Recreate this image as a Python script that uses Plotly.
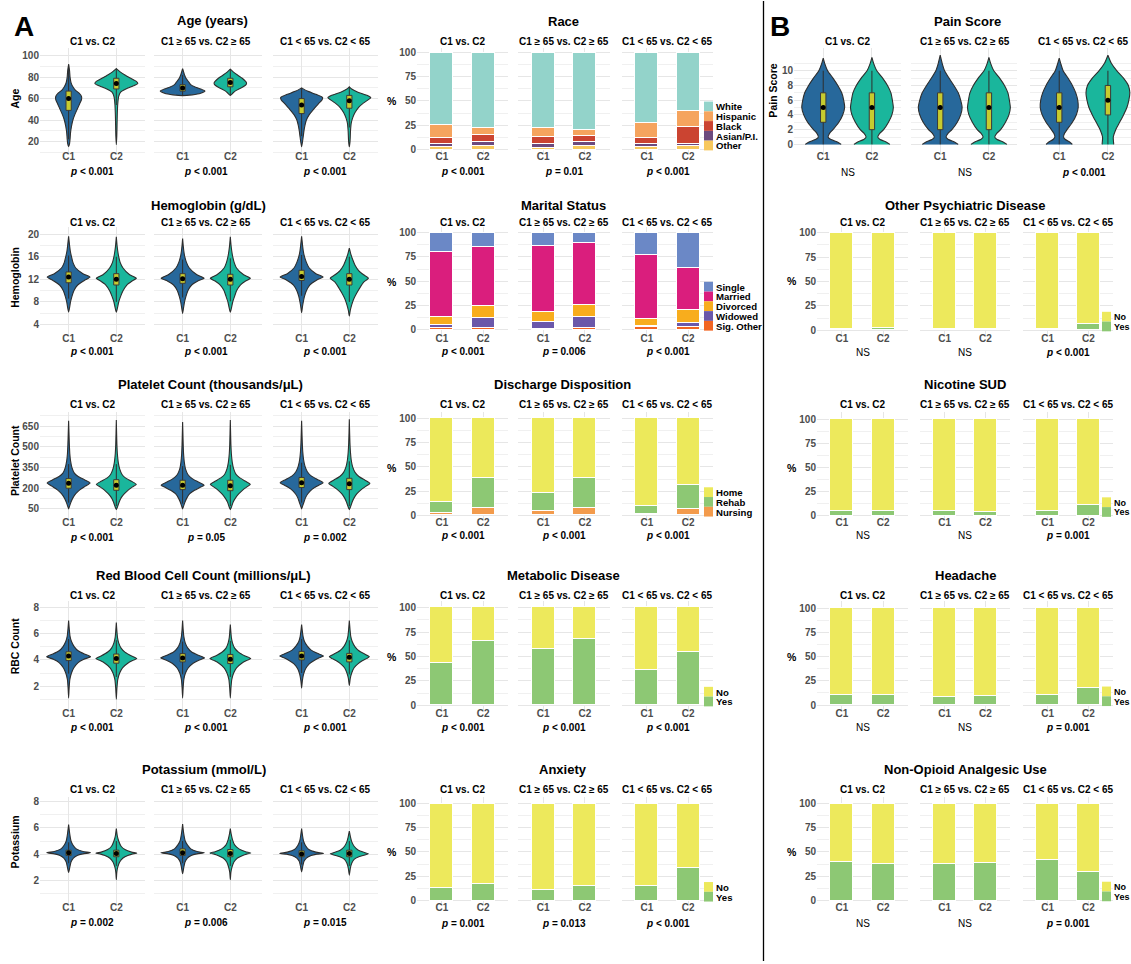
import plotly.graph_objects as go

W, H = 1131, 964
FONT = "Liberation Sans, Arial, Helvetica, sans-serif"

GROUPS = ["C1", "C2"]
COMPARISONS = ["C1 vs. C2", "C1 ≥ 65 vs. C2 ≥ 65", "C1 < 65 vs. C2 < 65"]

# ---------------- violin data: [value, half-width] profiles, C1 then C2 per comparison
AGE_PROFILES = [
    [[15, 0], [18, 0.02], [22, 0.03], [28, 0.04], [34, 0.06], [40, 0.09], [45, 0.13], [50, 0.18], [55, 0.23],
     [59, 0.27], [62, 0.27], [65, 0.22], [68, 0.14], [71, 0.09], [75, 0.05], [80, 0.03], [86, 0.02], [92, 0]],
    [[17, 0], [25, 0.01], [35, 0.015], [45, 0.02], [55, 0.03], [62, 0.05], [66, 0.09], [69, 0.2], [72, 0.36],
     [74, 0.45], [76, 0.42], [79, 0.3], [82, 0.18], [85, 0.08], [88, 0]],
    [[62.8, 0], [63.5, 0.2], [65, 0.38], [67, 0.47], [69, 0.38], [71, 0.25], [73, 0.17], [76, 0.12], [79, 0.07],
     [82, 0.04], [85, 0.02], [88, 0]],
    [[63, 0], [65, 0.05], [67, 0.1], [69, 0.18], [71, 0.27], [73, 0.33], [74.5, 0.34], [76, 0.32], [79, 0.25],
     [82, 0.15], [85, 0.06], [87.5, 0]],
    [[15, 0], [20, 0.02], [25, 0.035], [30, 0.05], [35, 0.07], [40, 0.1], [45, 0.16], [50, 0.25], [55, 0.35],
     [59, 0.43], [61, 0.44], [64, 0.3], [67, 0.12], [70, 0]],
    [[15, 0], [20, 0.015], [30, 0.025], [37, 0.04], [42, 0.07], [47, 0.12], [52, 0.2], [56, 0.3], [59, 0.4],
     [61, 0.45], [63, 0.38], [66, 0.18], [69, 0.05], [71, 0]],
]
# (lower whisker, q1, median, q3, upper whisker)
AGE_BOXES = [(22, 49, 60, 67, 92), (54, 69, 74, 79, 88), (63, 67, 70, 73, 82),
             (63, 71, 75, 79, 87), (25, 46, 54, 60, 70), (33, 51, 58, 63, 71)]
AGE_P = ["< 0.001", "< 0.001", "< 0.001"]

HGB_PROFILES = [
    [[6.2, 0], [7, 0.02], [8, 0.04], [9, 0.07], [10, 0.11], [11, 0.19], [11.8, 0.33], [12.4, 0.45], [13, 0.3],
     [14, 0.15], [15, 0.09], [16, 0.06], [17, 0.035], [18, 0.02], [19.6, 0]],
    [[6.2, 0], [7, 0.025], [8, 0.05], [9, 0.09], [10, 0.14], [11, 0.22], [11.7, 0.33], [12.2, 0.42], [12.8, 0.28],
     [14, 0.14], [15, 0.08], [16, 0.05], [17, 0.03], [18, 0.015], [19.5, 0]],
    [[6, 0], [7, 0.02], [8, 0.04], [9, 0.07], [10, 0.11], [11, 0.19], [11.7, 0.32], [12.2, 0.45], [12.8, 0.3],
     [14, 0.14], [15, 0.08], [16, 0.045], [17, 0.025], [18, 0.012], [19.2, 0]],
    [[6.2, 0], [7, 0.025], [8, 0.05], [9, 0.09], [10, 0.13], [11, 0.21], [11.7, 0.32], [12.2, 0.42], [12.8, 0.28],
     [14, 0.13], [15, 0.08], [16, 0.05], [17, 0.03], [18, 0.015], [19.5, 0]],
    [[6.1, 0], [7, 0.015], [8, 0.035], [9, 0.06], [10, 0.1], [11, 0.17], [11.9, 0.32], [12.4, 0.45], [13, 0.3],
     [14, 0.16], [15, 0.1], [16, 0.06], [17, 0.035], [18, 0.02], [19.6, 0]],
    [[5.5, 0], [6.5, 0.02], [7.5, 0.05], [8.5, 0.09], [9.5, 0.15], [10.5, 0.22], [11.5, 0.3], [12.2, 0.4],
     [12.8, 0.3], [13.5, 0.2], [14.5, 0.12], [15.5, 0.07], [16.5, 0.03], [17.5, 0]],
]
HGB_BOXES = [(8.6, 11.4, 12.4, 13.3, 16.2), (8.0, 11.0, 12.0, 13.0, 16.0), (8.8, 11.3, 12.1, 13.0, 15.5),
             (8.1, 11.0, 12.0, 12.9, 15.7), (9.1, 11.8, 12.5, 13.6, 16.3), (8.0, 11.0, 12.0, 13.0, 16.0)]
HGB_P = ["< 0.001", "< 0.001", "< 0.001"]

PLT_PROFILES = [
    [[50, 0], [70, 0.02], [100, 0.05], [130, 0.09], [160, 0.15], [190, 0.24], [215, 0.35], [238, 0.45],
     [260, 0.34], [285, 0.2], [310, 0.12], [350, 0.07], [400, 0.04], [450, 0.025], [520, 0.015], [600, 0.008],
     [690, 0]],
    [[45, 0], [70, 0.03], [100, 0.06], [130, 0.1], [160, 0.17], [190, 0.26], [210, 0.34], [228, 0.42],
     [250, 0.32], [275, 0.19], [300, 0.12], [340, 0.07], [390, 0.04], [450, 0.022], [520, 0.012], [600, 0.006],
     [695, 0]],
    [[50, 0], [70, 0.02], [100, 0.05], [130, 0.09], [160, 0.15], [185, 0.25], [205, 0.36], [222, 0.45],
     [245, 0.33], [270, 0.2], [300, 0.11], [340, 0.06], [390, 0.035], [450, 0.02], [520, 0.012], [600, 0.006],
     [680, 0]],
    [[45, 0], [70, 0.03], [100, 0.06], [130, 0.11], [160, 0.18], [190, 0.27], [210, 0.35], [228, 0.42],
     [250, 0.32], [275, 0.2], [300, 0.12], [340, 0.07], [390, 0.04], [450, 0.022], [520, 0.012], [600, 0.006],
     [695, 0]],
    [[50, 0], [70, 0.02], [100, 0.05], [130, 0.08], [160, 0.13], [195, 0.23], [220, 0.35], [240, 0.45],
     [262, 0.34], [290, 0.2], [320, 0.12], [360, 0.07], [410, 0.04], [460, 0.025], [530, 0.014], [610, 0.007],
     [690, 0]],
    [[45, 0], [70, 0.03], [100, 0.06], [130, 0.1], [160, 0.16], [190, 0.25], [215, 0.35], [235, 0.43],
     [258, 0.33], [285, 0.2], [315, 0.12], [355, 0.07], [405, 0.04], [460, 0.024], [530, 0.013], [610, 0.006],
     [700, 0]],
]
PLT_BOXES = [(95, 200, 237, 270, 375), (70, 185, 222, 262, 375), (88, 190, 222, 258, 360),
             (70, 182, 218, 258, 370), (95, 205, 240, 278, 385), (70, 190, 232, 272, 395)]
PLT_P = ["< 0.001", "= 0.05", "= 0.002"]

RBC_PROFILES = [
    [[1.1, 0], [1.8, 0.01], [2.5, 0.025], [3.0, 0.06], [3.4, 0.11], [3.8, 0.2], [4.05, 0.32], [4.25, 0.46],
     [4.45, 0.33], [4.7, 0.2], [5.0, 0.12], [5.4, 0.06], [5.8, 0.03], [6.3, 0.015], [7.0, 0]],
    [[1.0, 0], [1.8, 0.012], [2.5, 0.03], [3.0, 0.07], [3.4, 0.13], [3.75, 0.24], [3.95, 0.34], [4.1, 0.43],
     [4.3, 0.32], [4.6, 0.18], [4.9, 0.1], [5.3, 0.05], [5.7, 0.025], [6.2, 0.012], [6.85, 0]],
    [[1.1, 0], [1.8, 0.01], [2.5, 0.025], [3.0, 0.06], [3.4, 0.12], [3.75, 0.22], [3.98, 0.34], [4.15, 0.46],
     [4.35, 0.33], [4.6, 0.19], [4.9, 0.11], [5.3, 0.055], [5.8, 0.025], [6.3, 0.012], [7.0, 0]],
    [[1.1, 0], [1.8, 0.012], [2.5, 0.03], [3.0, 0.07], [3.4, 0.13], [3.75, 0.24], [3.95, 0.34], [4.1, 0.43],
     [4.3, 0.31], [4.6, 0.17], [4.9, 0.09], [5.3, 0.045], [5.7, 0.022], [6.2, 0.01], [6.7, 0]],
    [[1.85, 0], [2.4, 0.015], [2.9, 0.04], [3.3, 0.08], [3.7, 0.16], [4.0, 0.28], [4.15, 0.36], [4.3, 0.46],
     [4.5, 0.33], [4.75, 0.2], [5.05, 0.12], [5.4, 0.06], [5.8, 0.03], [6.2, 0.015], [6.7, 0]],
    [[2.05, 0], [2.6, 0.02], [3.0, 0.05], [3.4, 0.1], [3.7, 0.18], [3.95, 0.28], [4.1, 0.36], [4.25, 0.42],
     [4.45, 0.32], [4.7, 0.2], [5.0, 0.12], [5.4, 0.06], [5.8, 0.03], [6.3, 0.015], [7.0, 0]],
]
RBC_BOXES = [(2.95, 3.95, 4.3, 4.62, 5.6), (2.7, 3.75, 4.1, 4.45, 5.5), (2.9, 3.85, 4.15, 4.48, 5.4),
             (2.7, 3.72, 4.05, 4.42, 5.45), (3.0, 4.0, 4.3, 4.65, 5.6), (2.9, 3.85, 4.2, 4.5, 5.5)]
RBC_P = ["< 0.001", "< 0.001", "< 0.001"]

K_PROFILES = [
    [[2.6, 0], [3.0, 0.025], [3.4, 0.05], [3.7, 0.1], [3.9, 0.18], [4.02, 0.3], [4.1, 0.46], [4.2, 0.3],
     [4.4, 0.16], [4.7, 0.09], [5.0, 0.05], [5.5, 0.025], [6.25, 0]],
    [[2.05, 0], [2.6, 0.01], [3.0, 0.03], [3.4, 0.07], [3.7, 0.14], [3.9, 0.24], [4.0, 0.33], [4.07, 0.43],
     [4.15, 0.32], [4.35, 0.18], [4.6, 0.1], [5.0, 0.05], [5.4, 0.02], [5.95, 0]],
    [[2.5, 0], [3.0, 0.025], [3.4, 0.05], [3.7, 0.1], [3.9, 0.18], [4.02, 0.3], [4.1, 0.46], [4.2, 0.3],
     [4.4, 0.17], [4.7, 0.1], [5.0, 0.055], [5.6, 0.022], [6.3, 0]],
    [[2.05, 0], [2.6, 0.012], [3.0, 0.035], [3.4, 0.075], [3.7, 0.15], [3.9, 0.26], [4.0, 0.34], [4.08, 0.43],
     [4.18, 0.32], [4.4, 0.18], [4.7, 0.09], [5.1, 0.045], [5.5, 0.02], [5.95, 0]],
    [[2.65, 0], [3.1, 0.025], [3.45, 0.05], [3.7, 0.1], [3.9, 0.2], [4.0, 0.32], [4.05, 0.46], [4.15, 0.3],
     [4.35, 0.15], [4.65, 0.08], [5.0, 0.04], [5.4, 0.02], [5.95, 0]],
    [[2.4, 0], [2.9, 0.02], [3.3, 0.05], [3.6, 0.1], [3.8, 0.2], [3.95, 0.34], [4.02, 0.4], [4.12, 0.32],
     [4.3, 0.19], [4.6, 0.1], [4.95, 0.05], [5.3, 0.025], [5.75, 0]],
]
K_BOXES = [(3.3, 3.9, 4.1, 4.3, 4.9), (3.1, 3.8, 4.05, 4.3, 5.0), (3.3, 3.9, 4.1, 4.4, 5.0),
           (3.1, 3.8, 4.05, 4.35, 5.1), (3.2, 3.8, 4.0, 4.25, 4.9), (3.1, 3.8, 4.05, 4.3, 5.0)]
K_P = ["= 0.002", "= 0.006", "= 0.015"]

PAIN_PROFILES = [
    [[0, 0.37], [0.3, 0.3], [0.7, 0.15], [1, 0.1], [1.5, 0.13], [2, 0.2], [3, 0.32], [4, 0.4], [5, 0.44],
     [6, 0.42], [7, 0.38], [8, 0.3], [9, 0.2], [10, 0.09], [11, 0.03], [11.7, 0]],
    [[0, 0.37], [0.3, 0.3], [0.7, 0.16], [1, 0.12], [1.5, 0.16], [2, 0.24], [3, 0.34], [4, 0.41], [5, 0.44],
     [6, 0.42], [7, 0.39], [8, 0.32], [9, 0.22], [10, 0.1], [11, 0.035], [11.8, 0]],
    [[0, 0.37], [0.3, 0.3], [0.7, 0.16], [1, 0.12], [1.5, 0.16], [2, 0.24], [3, 0.35], [4, 0.42], [5, 0.45],
     [6, 0.42], [7, 0.37], [8, 0.28], [9, 0.18], [10, 0.09], [11, 0.04], [12.1, 0]],
    [[0, 0.37], [0.3, 0.3], [0.7, 0.16], [1, 0.12], [1.5, 0.16], [2, 0.24], [3, 0.34], [4, 0.41], [5, 0.44],
     [6, 0.42], [7, 0.39], [8, 0.32], [9, 0.22], [10, 0.1], [11, 0.035], [11.8, 0]],
    [[0, 0.27], [0.3, 0.22], [0.7, 0.12], [1, 0.09], [1.5, 0.11], [2, 0.16], [3, 0.27], [4, 0.35], [5, 0.39],
     [6, 0.38], [7, 0.34], [8, 0.27], [9, 0.18], [10, 0.08], [11, 0.03], [11.7, 0]],
    [[0, 0.12], [1, 0.11], [2, 0.16], [3, 0.24], [4, 0.32], [5, 0.39], [6, 0.43], [7, 0.45], [8, 0.42],
     [9, 0.32], [10, 0.18], [11, 0.07], [12.1, 0]],
]
PAIN_BOXES = [(0, 3, 5, 7, 10), (0, 2, 5, 7, 10), (0, 2, 5, 7, 10),
              (0, 2, 5, 7, 10), (0, 3, 5, 7, 10), (0, 4, 6, 8, 10)]
PAIN_P = ["NS", "NS", "< 0.001"]

# ---------------- stacked percentages: [C1, C2] per comparison, bottom segment first
RACE = {
    "Other":      [[2.5, 3.5], [2.0, 3.5], [3.0, 4.0]],
    "Asian/P.I.": [[3.0, 4.0], [3.5, 4.0], [3.0, 2.0]],
    "Black":      [[6.0, 7.5], [7.5, 6.5], [6.0, 17.0]],
    "Hispanic":   [[14.0, 7.0], [9.5, 6.0], [15.0, 17.0]],
    "White":      [[74.5, 78.0], [77.5, 80.0], [73.0, 60.0]],
}
RACE_P = ["< 0.001", "= 0.01", "< 0.001"]

MARITAL = {
    "Sig. Other": [[2.0, 1.5], [0.5, 1.5], [2.5, 3.0]],
    "Widowed":    [[3.0, 10.5], [7.5, 11.0], [1.5, 3.5]],
    "Divorced":   [[8.0, 12.5], [10.0, 12.5], [6.5, 14.0]],
    "Married":    [[67.0, 61.0], [68.0, 64.0], [66.0, 43.5]],
    "Single":     [[20.0, 14.5], [14.0, 11.0], [23.5, 36.0]],
}
MARITAL_P = ["< 0.001", "= 0.006", "< 0.001"]

DISCHARGE = {
    "Nursing": [[2.5, 7.0], [4.5, 7.0], [1.5, 6.5]],
    "Rehab":   [[11.0, 31.0], [18.5, 31.5], [8.0, 24.5]],
    "Home":    [[86.5, 62.0], [77.0, 61.5], [90.5, 69.0]],
}
DISCHARGE_P = ["< 0.001", "< 0.001", "< 0.001"]

METABOLIC = {"Yes": [[42.5, 65.5], [57.5, 67.5], [36.0, 54.0]],
             "No":  [[57.5, 34.5], [42.5, 32.5], [64.0, 46.0]]}
METABOLIC_P = ["< 0.001", "< 0.001", "< 0.001"]

ANXIETY = {"Yes": [[13.5, 17.5], [11.5, 15.5], [15.0, 34.0]],
           "No":  [[86.5, 82.5], [88.5, 84.5], [85.0, 66.0]]}
ANXIETY_P = ["= 0.001", "= 0.013", "< 0.001"]

PSYCH = {"Yes": [[1.5, 2.5], [1.0, 1.5], [1.5, 6.5]],
         "No":  [[98.5, 97.5], [99.0, 98.5], [98.5, 93.5]]}
PSYCH_P = ["NS", "NS", "< 0.001"]

NICOTINE = {"Yes": [[5.0, 5.0], [5.0, 3.5], [5.0, 11.0]],
            "No":  [[95.0, 95.0], [95.0, 96.5], [95.0, 89.0]]}
NICOTINE_P = ["NS", "NS", "= 0.001"]

HEADACHE = {"Yes": [[9.5, 9.5], [7.5, 8.5], [9.5, 17.5]],
            "No":  [[90.5, 90.5], [92.5, 91.5], [90.5, 82.5]]}
HEADACHE_P = ["NS", "NS", "= 0.001"]

NONOPIOID = {"Yes": [[40.0, 38.0], [38.0, 39.0], [42.0, 30.0]],
             "No":  [[60.0, 62.0], [62.0, 61.0], [58.0, 70.0]]}
NONOPIOID_P = ["NS", "NS", "= 0.001"]

# ---------------- styling
C1_COL, C2_COL = "#27689B", "#1AB69C"
BOX_FILL = "#C6CB2F"
OUTLINE = "#2E2E2E"
GRID, GRID_MINOR = "#E6E6E6", "#F0F0F0"
TICK_FONT = dict(family=FONT, size=10, color="#4D4D4D", weight="bold")

RACE_COLORS = {"White": "#93D3CA", "Hispanic": "#F5A45E", "Black": "#CB4431",
               "Asian/P.I.": "#6C4A7E", "Other": "#F7C85C"}
MARITAL_COLORS = {"Single": "#6B88C6", "Married": "#DA1E7D", "Divorced": "#F8AD1D",
                  "Widowed": "#6B58AA", "Sig. Other": "#F26522"}
DISCHARGE_COLORS = {"Home": "#ECE95B", "Rehab": "#8DC874", "Nursing": "#F39B4C"}
YESNO_COLORS = {"No": "#EDE95C", "Yes": "#8DC874"}

# panel geometry in pixels
VIOLIN_COLS = [(40, 145), (154, 262), (273, 378)]
BAR_COLS = [(417, 508), (518, 610), (622, 713)]
PAIN_COLS = [(794, 901), (911, 1017), (1030, 1131)]
RBAR_COLS = [(817, 908), (920, 1010), (1023, 1113)]
ROWS = [(47, 153), (227, 335), (413, 520), (603, 712), (799, 907)]
LABEL_SHIFT = -4   # pulls the C1/C2 labels back up towards the panels

fig = go.Figure()
axes_layout = {}
annos = []
shapes = []
counter = [0]


def yrange(t1, t2, top, bot):
    (v1, p1), (v2, p2) = t1, t2
    s = (p2 - p1) / (v1 - v2)
    return [v2 - (bot - p2) / s, v1 + (p1 - top) / s]


def make_axes(xpx, ypx, xr, yr, yticks, yminor, show_ylabels):
    counter[0] += 1
    n = counter[0]
    s = "" if n == 1 else str(n)
    axes_layout["xaxis" + s] = dict(
        domain=[xpx[0] / W, xpx[1] / W], range=xr, anchor="y" + s,
        tickmode="array", tickvals=[1, 2], ticktext=GROUPS,
        showgrid=True, gridcolor=GRID, gridwidth=1, zeroline=False, showline=False,
        ticks="", tickfont=TICK_FONT, fixedrange=True, ticklabelstandoff=LABEL_SHIFT)
    axes_layout["yaxis" + s] = dict(
        domain=[1 - ypx[1] / H, 1 - ypx[0] / H], range=yr, anchor="x" + s,
        tickmode="array", tickvals=yticks, showticklabels=show_ylabels,
        showgrid=True, gridcolor=GRID, gridwidth=1, zeroline=False, showline=False,
        ticks="", tickfont=TICK_FONT, fixedrange=True,
        minor=dict(tickmode="array", tickvals=yminor, showgrid=True,
                   gridcolor=GRID_MINOR, gridwidth=0.7, ticks=""))
    return "x" + s, "y" + s


def text(x, y, s, size=10, bold=True, angle=0, xanchor="center", color="black"):
    annos.append(dict(x=x / W, y=1 - y / H, xref="paper", yref="paper", text=s, showarrow=False,
                      font=dict(family=FONT, size=size, color=color,
                                weight="bold" if bold else "normal"),
                      textangle=angle, xanchor=xanchor, yanchor="middle"))


def p_text(x, y, p):
    if p == "NS":
        text(x, y, "NS", bold=False)
    else:
        op, val = p.split()
        text(x, y, "<i>p</i> %s %s" % ("&lt;" if op == "<" else "=", val))


def violin(xa, ya, center, profile, color):
    ys = [p[0] for p in profile]
    hw = [p[1] for p in profile]
    xs = [center - w for w in hw] + [center + w for w in reversed(hw)]
    fig.add_trace(go.Scatter(
        x=xs, y=ys + ys[::-1], mode="lines", fill="toself", fillcolor=color,
        line=dict(color=OUTLINE, width=1.1, shape="spline", smoothing=0.5),
        xaxis=xa, yaxis=ya, hoverinfo="skip", showlegend=False))


def boxplot(xa, ya, center, stats):
    lo, q1, med, q3, hi = stats
    bw = 0.055
    fig.add_trace(go.Scatter(x=[center, center], y=[lo, hi], mode="lines",
                             line=dict(color=OUTLINE, width=1), xaxis=xa, yaxis=ya,
                             hoverinfo="skip", showlegend=False))
    fig.add_trace(go.Scatter(x=[center - bw, center + bw, center + bw, center - bw, center - bw],
                             y=[q1, q1, q3, q3, q1], mode="lines", fill="toself", fillcolor=BOX_FILL,
                             line=dict(color="#3A3A3A", width=1), xaxis=xa, yaxis=ya,
                             hoverinfo="skip", showlegend=False))
    fig.add_trace(go.Scatter(x=[center], y=[med], mode="markers",
                             marker=dict(color="black", size=5), xaxis=xa, yaxis=ya,
                             hoverinfo="skip", showlegend=False))


def legend(x, y_bottom, items, size=9.6):
    h = 9.8
    n = len(items)
    for i, (label, color) in enumerate(items):
        y0 = y_bottom - (n - i) * h
        shapes.append(dict(type="rect", xref="paper", yref="paper", x0=x / W, x1=(x + 9) / W,
                           y0=1 - (y0 + h) / H, y1=1 - y0 / H, fillcolor=color, line=dict(width=0),
                           layer="above"))
        text(x + 10, y0 + h / 2 + 0.5, label, size=size, xanchor="left")


def violin_block(row, cols, title, title_xy, ytitle, ytitle_xy, profiles, boxes, pvals,
                 ticks, yticks, yminor, ppu, p_y, sub_y):
    top, bot = ROWS[row]
    yr = yrange(ticks[0], ticks[1], top, bot)
    text(title_xy[0], title_xy[1], title, size=13)
    text(ytitle_xy[0], ytitle_xy[1], ytitle, size=10.5, angle=-90)
    for k, (x0, x1) in enumerate(cols):
        xr = [0.4, 0.4 + (x1 - x0) / ppu]
        xa, ya = make_axes((x0, x1), (top, bot), xr, yr, yticks, yminor, k == 0)
        for g in range(2):
            violin(xa, ya, g + 1, profiles[2 * k + g], C1_COL if g == 0 else C2_COL)
            boxplot(xa, ya, g + 1, boxes[2 * k + g])
        cx = x0 + 1.1 * ppu
        text(cx, sub_y, COMPARISONS[k], size=10)
        p_text(cx, p_y, pvals[k])


def bar_block(row, cols, title, title_xy, pct_xy, data, colors, legend_items, legend_x, pvals,
              ticks, sub_y, p_y, legend_size=9.6):
    top, bot = ROWS[row]
    yr = yrange(ticks[0], ticks[1], top, bot)
    text(title_xy[0], title_xy[1], title, size=13)
    text(pct_xy[0], pct_xy[1], "%", size=10.5)
    for k, (x0, x1) in enumerate(cols):
        xa, ya = make_axes((x0, x1), (top, bot), [0.4, 2.6], yr, [0, 25, 50, 75, 100],
                           [12.5, 37.5, 62.5, 87.5], k == 0)
        for cat, vals in data.items():
            fig.add_trace(go.Bar(x=[1, 2], y=vals[k], width=0.55, name=cat,
                                 marker=dict(color=colors[cat], line=dict(color="white", width=1)),
                                 xaxis=xa, yaxis=ya, hoverinfo="skip", showlegend=False))
        cx = (x0 + x1) / 2
        text(cx, sub_y, COMPARISONS[k], size=10)
        p_text(cx, p_y, pvals[k])
    # legend sits on the zero line of the panels
    zero_px = ticks[1][1]
    legend(legend_x, zero_px + 1, [(c, colors[c]) for c in legend_items], legend_size)


VPPU = 47.7
# ---- column A, violins
violin_block(0, VIOLIN_COLS, "Age (years)", (212, 20), "Age", (15, 98), AGE_PROFILES, AGE_BOXES, AGE_P,
             [(100, 55), (20, 141)], [20, 40, 60, 80, 100], [10, 30, 50, 70, 90], VPPU, 171.5, 41)
violin_block(1, VIOLIN_COLS, "Hemoglobin (g/dL)", (208, 205), "Hemoglobin", (15, 278), HGB_PROFILES,
             HGB_BOXES, HGB_P, [(20, 234), (4, 325)], [4, 8, 12, 16, 20], [6, 10, 14, 18], VPPU,
             352.3, 222)
violin_block(2, VIOLIN_COLS, "Platelet Count (thousands/μL)", (210, 385), "Platelet Count", (15, 462),
             PLT_PROFILES, PLT_BOXES, PLT_P, [(650, 427), (50, 510)], [50, 200, 350, 500, 650],
             [125, 275, 425, 575, 725], VPPU, 538.3, 405)
violin_block(3, VIOLIN_COLS, "Red Blood Cell Count (millions/μL)", (203, 577), "RBC Count", (15, 648),
             RBC_PROFILES, RBC_BOXES, RBC_P, [(8, 609), (2, 688)], [2, 4, 6, 8], [1, 3, 5, 7], VPPU,
             730, 597)
violin_block(4, VIOLIN_COLS, "Potassium (mmol/L)", (204, 772), "Potassium", (15, 845), K_PROFILES,
             K_BOXES, K_P, [(8, 804), (2, 883)], [2, 4, 6, 8], [1, 3, 5, 7], VPPU, 925, 792)

# ---- column A, stacked bars
bar_block(0, BAR_COLS, "Race", (563, 21), (392, 100), RACE, RACE_COLORS,
          ["White", "Hispanic", "Black", "Asian/P.I.", "Other"], 704, RACE_P,
          [(100, 51.7), (0, 149)], 41, 171.5)
bar_block(1, BAR_COLS, "Marital Status", (563, 205), (392, 281.7), MARITAL, MARITAL_COLORS,
          ["Single", "Married", "Divorced", "Widowed", "Sig. Other"], 704, MARITAL_P,
          [(100, 232.7), (0, 330)], 222, 352.3)
bar_block(2, BAR_COLS, "Discharge Disposition", (562, 385), (392, 469.3), DISCHARGE, DISCHARGE_COLORS,
          ["Home", "Rehab", "Nursing"], 704, DISCHARGE_P,
          [(100, 419), (0, 516.7)], 405, 537)
bar_block(3, BAR_COLS, "Metabolic Disease", (563, 577), (392, 658.3), METABOLIC, YESNO_COLORS,
          ["No", "Yes"], 704, METABOLIC_P, [(100, 609.3), (0, 707.3)], 597, 730)
bar_block(4, BAR_COLS, "Anxiety", (563, 772), (392, 854.3), ANXIETY, YESNO_COLORS,
          ["No", "Yes"], 704, ANXIETY_P, [(100, 805.7), (0, 903.3)], 792, 926.5)

# ---- column B
violin_block(0, PAIN_COLS, "Pain Score", (967, 21), "Pain Score", (773, 90), PAIN_PROFILES, PAIN_BOXES,
             PAIN_P, [(10, 70), (0, 144)], [0, 2, 4, 6, 8, 10], [1, 3, 5, 7, 9, 11], 48.7, 172.5, 41)
bar_block(1, RBAR_COLS, "Other Psychiatric Disease", (965, 205), (792, 280.7), PSYCH, YESNO_COLORS,
          ["No", "Yes"], 1102, PSYCH_P, [(100, 232.7), (0, 330.7)], 222, 353.3, 9)
bar_block(2, RBAR_COLS, "Nicotine SUD", (965, 385), (792, 469.3), NICOTINE, YESNO_COLORS,
          ["No", "Yes"], 1102, NICOTINE_P, [(100, 420), (0, 517)], 405, 537, 9)
bar_block(3, RBAR_COLS, "Headache", (965, 577), (792, 658.3), HEADACHE, YESNO_COLORS,
          ["No", "Yes"], 1102, HEADACHE_P, [(100, 610), (0, 707)], 597, 730, 9)
bar_block(4, RBAR_COLS, "Non-Opioid Analgesic Use", (965, 772), (792, 854.3), NONOPIOID, YESNO_COLORS,
          ["No", "Yes"], 1102, NONOPIOID_P, [(100, 806), (0, 903)], 792, 926.5, 9)

# panel letters and divider
text(24, 26, "A", size=28)
text(780, 26, "B", size=28)
shapes.append(dict(type="line", xref="paper", yref="paper", x0=763.5 / W, x1=763.5 / W, y0=0, y1=1,
                   line=dict(color="black", width=1.3)))

fig.update_layout(
    width=W, height=H, autosize=False,
    margin=dict(l=0, r=0, t=0, b=0),
    paper_bgcolor="white", plot_bgcolor="white",
    barmode="stack", bargap=0, showlegend=False,
    font=dict(family=FONT, size=10, color="black"),
    annotations=annos, shapes=shapes,
    **axes_layout,
)

fig.write_html("out.html")
